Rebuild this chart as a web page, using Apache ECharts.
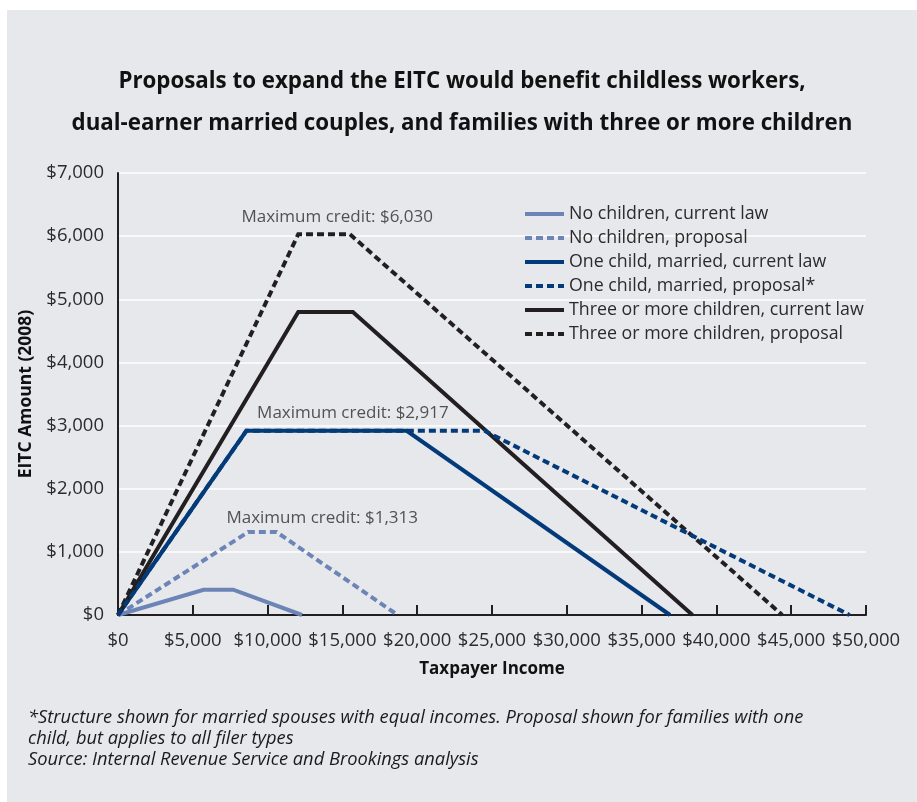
<!DOCTYPE html>
<html>
<head>
<meta charset="utf-8">
<script src="https://cdn.jsdelivr.net/npm/echarts@6/dist/echarts.min.js"></script>
<style>
  html, body { margin: 0; padding: 0; background: #ffffff; }
  #chart { position: absolute; left: 7px; top: 10px; width: 910px; height: 792px; background: #e6e8ec; }
</style>
</head>
<body>
<div id="chart"></div>
<script>
// income thresholds (x) and credit amounts (y)
const noKidsCurX = [0, 5720, 7700, 12300];
const noKidsCurY = [0, 400, 400, 0];
const noKidsPropX = [0, 8700, 10600, 18700];
const noKidsPropY = [0, 1313, 1313, 0];
const oneCurX = [0, 8580, 19300, 36900];
const oneCurY = [0, 2917, 2917, 0];
const onePropX = [0, 8580, 24500, 48900];
const onePropY = [0, 2917, 2917, 0];
const threeCurX = [0, 12050, 15700, 38400];
const threeCurY = [0, 4800, 4800, 0];
const threePropX = [0, 12050, 15500, 44400];
const threePropY = [0, 6030, 6030, 0];

const seriesNames = [
  "No children, current law",
  "No children, proposal",
  "One child, married, current law",
  "One child, married, proposal*",
  "Three or more children, current law",
  "Three or more children, proposal",
];

// "Maximum credit" notes, placed in data units
const noteText = ["Maximum credit: $6,030", "Maximum credit: $2,917", "Maximum credit: $1,313"];
const noteX = [14650, 15700, 13650];
const noteY = [6300, 3200, 1540];

const LIGHT = "#6d84b6";
const DARK = "#033b7a";
const BLACK = "#231f20";
const TXT = "#2b2b2b";
const FONT = "Open Sans";
const DASH = [7, 4];

function pairs(xs, ys) {
  return xs.map((x, i) => [x, ys[i]]);
}
function money(v) {
  return "$" + v.toLocaleString("en-US");
}

const lineDefs = [
  { name: seriesNames[0], data: pairs(noKidsCurX, noKidsCurY), color: LIGHT, type: "solid" },
  { name: seriesNames[1], data: pairs(noKidsPropX, noKidsPropY), color: LIGHT, type: DASH },
  { name: seriesNames[2], data: pairs(oneCurX, oneCurY), color: DARK, type: "solid" },
  { name: seriesNames[4], data: pairs(threeCurX, threeCurY), color: BLACK, type: "solid" },
  { name: seriesNames[5], data: pairs(threePropX, threePropY), color: BLACK, type: DASH },
  { name: seriesNames[3], data: pairs(onePropX, onePropY), color: DARK, type: DASH },
];

const series = lineDefs.map((d) => ({
  name: d.name,
  type: "line",
  data: d.data,
  symbol: "none",
  silent: true,
  color: d.color,
  lineStyle: { color: d.color, width: 4, type: d.type, cap: "butt", join: "miter" },
  z: 3,
}));

series.push({
  name: "notes",
  type: "scatter",
  data: noteX.map((x, i) => ({ value: [x, noteY[i]], label: { formatter: noteText[i] } })),
  symbolSize: 0,
  silent: true,
  label: {
    show: true,
    position: "inside",
    color: TXT,
    fontFamily: FONT,
    fontSize: 17,
  },
  z: 4,
});

const chart = echarts.init(document.getElementById("chart"));
chart.setOption({
  backgroundColor: "#e6e8ec",
  animation: false,
  title: {
    text: "Proposals to expand the EITC would benefit childless workers,\ndual-earner married couples, and families with three or more children",
    left: "center",
    top: 46,
    textStyle: {
      fontFamily: FONT,
      fontWeight: "bold",
      fontSize: 22.3,
      lineHeight: 42,
      color: "#111111",
    },
  },
  legend: {
    data: seriesNames,
    orient: "vertical",
    left: 516,
    top: 195,
    padding: 0,
    itemWidth: 39,
    itemHeight: 14,
    itemGap: 6,
    itemStyle: { opacity: 0 },
    lineStyle: { width: 4 },
    textStyle: { fontFamily: FONT, fontSize: 17.8, lineHeight: 18, color: TXT },
    selectedMode: false,
  },
  grid: { left: 111, top: 163, right: 51, bottom: 187 },
  xAxis: {
    type: "value",
    min: 0,
    max: 50000,
    interval: 5000,
    name: "Taxpayer Income",
    nameLocation: "middle",
    nameGap: 46,
    nameTextStyle: { fontFamily: FONT, fontWeight: "bold", fontSize: 17, color: "#111111" },
    axisLine: { show: true, lineStyle: { color: "#231f20", width: 2 } },
    axisTick: { show: true, inside: true, length: 10, lineStyle: { color: "#231f20", width: 2 } },
    axisLabel: { margin: 16, fontFamily: FONT, fontSize: 18.5, color: TXT, formatter: money },
    splitLine: { show: false },
  },
  yAxis: {
    type: "value",
    min: 0,
    max: 7000,
    interval: 1000,
    name: "EITC Amount (2008)",
    nameLocation: "middle",
    nameRotate: 90,
    nameGap: 76,
    nameTextStyle: { fontFamily: FONT, fontWeight: "bold", fontSize: 17.5, color: "#111111" },
    axisLine: { show: true, lineStyle: { color: "#231f20", width: 2 } },
    axisTick: { show: false },
    axisLabel: { margin: 14, fontFamily: FONT, fontSize: 18.5, color: TXT, formatter: money },
    splitLine: { show: true, lineStyle: { color: "#ffffff", width: 1.5 } },
  },
  graphic: [
    {
      type: "text",
      left: 21,
      top: 697,
      style: {
        text: "*Structure shown for married spouses with equal incomes. Proposal shown for families with one\nchild, but applies to all filer types\nSource: Internal Revenue Service and Brookings analysis",
        fontFamily: FONT,
        fontStyle: "italic",
        fontSize: 18.3,
        lineHeight: 21,
        fill: "#1a1a1a",
      },
    },
  ],
  series: series,
});
</script>
</body>
</html>
